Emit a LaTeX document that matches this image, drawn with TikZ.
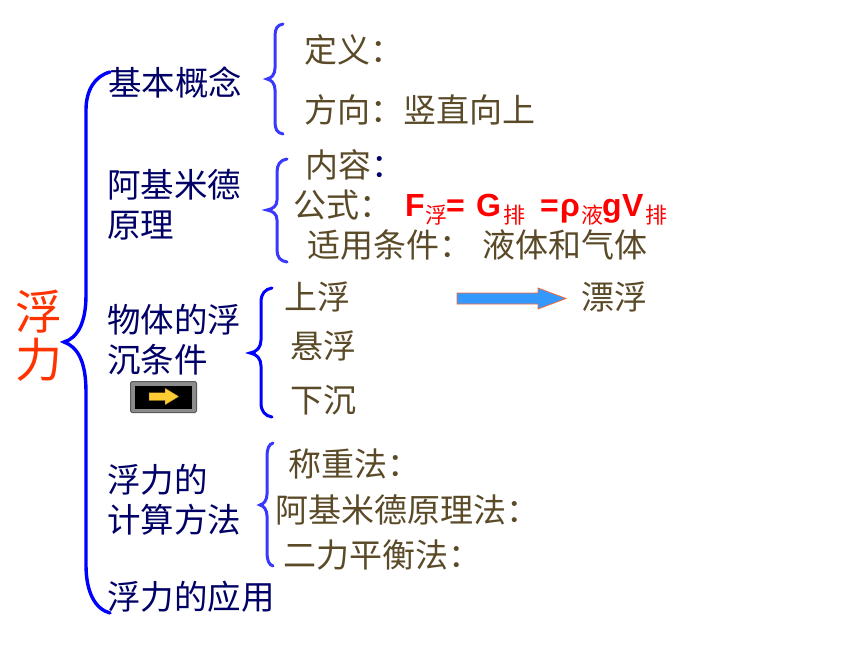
\documentclass[tikz,border=0pt]{standalone}
\usepackage{fontspec}
\setmainfont{Liberation Sans}
\newfontfamily\cjk{Noto Sans CJK SC}
\definecolor{navytxt}{HTML}{000066}
\definecolor{browntxt}{HTML}{5A4A28}
\definecolor{bracemain}{HTML}{0000FF}
\definecolor{bracesoft}{HTML}{3838FF}
\definecolor{redtxt}{HTML}{FF0000}
\definecolor{titlered}{HTML}{FF3300}
\definecolor{arrowblue}{HTML}{3399FF}
\definecolor{arroworange}{HTML}{FF6633}
\definecolor{btngold}{HTML}{FFCC33}
\tikzset{
  lbl/.style={anchor=base west,inner sep=0pt,outer sep=0pt,font=\cjk\fontsize{33}{33}\selectfont},
  topic/.style={lbl,text=navytxt,font=\cjk\fontsize{33.5}{33.5}\selectfont},
  item/.style={lbl,text=browntxt},
  formula/.style={anchor=base west,inner sep=0pt,text=redtxt,font=\bfseries\fontsize{32}{32}\selectfont},
  subf/.style={anchor=base west,inner sep=0pt,text=redtxt,font=\cjk\fontsize{22}{22}\selectfont},
  mainbrace/.style={draw=bracemain,line width=3.4pt,line cap=round,fill=none},
  subbrace/.style={draw=bracesoft,line width=3pt,line cap=round,fill=none},
  tightbrace/.style={draw=bracemain,line width=3pt,line cap=round,fill=none},
}
\begin{document}
\begin{tikzpicture}[x=1pt,y=-1pt]
\useasboundingbox (0,0) rectangle (860,645);
% title
\node[anchor=base west,inner sep=0pt,text=titlered,font=\cjk\fontsize{47}{47}\selectfont] (t1) at (15,329) {浮};
\node[anchor=base west,inner sep=0pt,text=titlered,font=\cjk\fontsize{47}{47}\selectfont] (t2) at (15,377) {力};
% main brace
\draw[mainbrace] (110,72) .. controls (95,76) and (86,90) .. (86,110) -- (86,295) .. controls (86,322) and (78,338) .. (64,342) .. controls (78,347) and (86,362) .. (86,392) -- (86,565) .. controls (86,592) and (95,609) .. (110,613);
% topics
\node[topic] (a) at (108,95) {基本概念};
\node[topic] (b1) at (107,197) {阿基米德};
\node[topic] (b2) at (107,237) {原理};
\node[topic] (c1) at (107,332) {物体的浮};
\node[topic] (c2) at (107,372) {沉条件};
\node[topic] (d1) at (107,492) {浮力的};
\node[topic] (d2) at (107,532) {计算方法};
\node[topic] (e) at (107,609) {浮力的应用};
% brace 1
\draw[subbrace] (283,24) .. controls (277,25) and (275,29) .. (275,36) -- (275,68) .. controls (275,74) and (272,78) .. (267,79) .. controls (272,80) and (275,84) .. (275,90) -- (275,122) .. controls (275,129) and (277,133) .. (283,134);
\node[item] (a1) at (304,62) {定义：};
\node[item] (a2) at (304,122) {方向：竖直向上};
% brace 2
\draw[subbrace] (287,159) .. controls (280,160) and (277,165) .. (277,172) -- (277,200) .. controls (277,206) and (273,209) .. (267,210) .. controls (273,211) and (277,214) .. (277,220) -- (277,250) .. controls (277,257) and (280,261) .. (287,262);
\node[item] (b3) at (305,177) {内容\textcolor{navytxt}{：}};
\node[item] (b4) at (293,217) {公式：};
\node[formula] (f1) at (405,216) {F};
\node[subf] (f2) at (425,223) {浮};
\node[formula] (f3) at (446,216) {=};
\node[formula] (f4) at (476,216) {G};
\node[subf] (f5) at (503,223) {排};
\node[formula] (f6) at (540,216) {=};
\node[formula] (f7) at (560,216) {ρ};
\node[subf] (f8) at (581,223) {液};
\node[formula] (f9) at (602,216) {g};
\node[formula] (f10) at (622,216) {V};
\node[subf] (f11) at (645,223) {排};
\node[item] (b5) at (307,257) {适用条件：\hspace{10pt}液体和气体};
% brace 3
\draw[tightbrace] (272,288) .. controls (265,289) and (261,294) .. (261,302) -- (261,340) .. controls (261,347) and (257,352) .. (250,353) .. controls (257,354) and (261,359) .. (261,366) -- (261,403) .. controls (261,411) and (265,416) .. (272,417);
\node[item] (c3) at (284,309) {上浮};
\node[item] (c4) at (290,358) {悬浮};
\node[item] (c5) at (290,412) {下沉};
\node[item] (c6) at (581,309) {漂浮};
% arrow
\path[fill=arrowblue,draw=arroworange,line width=0.8pt] (457,293) -- (538,293) -- (538,288) -- (566,298.5) -- (538,309) -- (538,304) -- (457,304) -- cycle;
% button
\node[draw=black!65,fill=black!45,line width=1pt,rounded corners=1.5pt,minimum width=66pt,minimum height=31pt,inner sep=0pt] (btn) at (163.5,397) {};
\path[fill=black] (135,385.5) rectangle (192,408.5);
\path[fill=btngold,draw=black!70!btngold,line width=0.3pt] (149,392.5) -- (165,392.5) -- (165,388) -- (179,396.5) -- (165,405) -- (165,400.5) -- (149,400.5) -- cycle;
% brace 4
\draw[subbrace] (273,443) .. controls (269,444) and (267,449) .. (267,456) -- (267,494) .. controls (267,500) and (264,504) .. (260,505) .. controls (264,506) and (267,510) .. (267,516) -- (267,553) .. controls (267,560) and (269,565) .. (273,566);
\node[item] (d3) at (288,476) {称重法：};
\node[item] (d4) at (275,522) {阿基米德原理法：};
\node[item] (d5) at (283,567) {二力平衡法：};
\end{tikzpicture}
\end{document}
